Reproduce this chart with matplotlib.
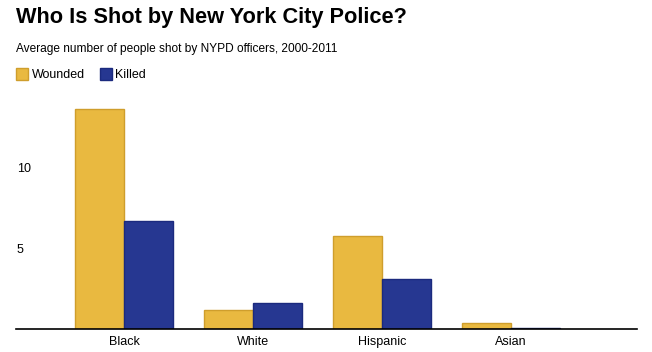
import numpy as np
import matplotlib.pyplot as plt

plt.rcParams['font.family'] = ['Liberation Sans', 'DejaVu Sans']

categories = ['Black', 'White', 'Hispanic', 'Asian']
wounded = [13.6, 1.15, 5.75, 0.38]
killed = [6.65, 1.6, 3.08, 0.08]
yticks = [5, 10]

wounded_color = '#E9B940'
wounded_edge = '#CF9E2C'
killed_color = '#263791'
killed_edge = '#1B2A7E'


def main():
    fig = plt.figure(figsize=(6.52, 3.52), dpi=100)
    ax = fig.add_axes([16 / 652, 23 / 352, 621 / 652, 230 / 352])

    x = np.arange(len(categories))
    width = 49 / 129
    ax.bar(x - width / 2, wounded, width, color=wounded_color,
           edgecolor=wounded_edge, linewidth=1, label='Wounded')
    ax.bar(x + width / 2, killed, width, color=killed_color,
           edgecolor=killed_edge, linewidth=1, label='Killed')

    ax.set_xlim(-0.837, 3.977)
    ax.set_ylim(0, 14.2)

    for side in ['top', 'right', 'left']:
        ax.spines[side].set_visible(False)
    ax.spines['bottom'].set_color('black')
    ax.spines['bottom'].set_linewidth(1.2)

    ax.set_xticks(x)
    ax.set_xticklabels(categories, fontsize=9)
    ax.tick_params(axis='x', length=0, pad=5)

    ax.set_yticks(yticks)
    ax.set_yticklabels([str(t) for t in yticks], fontsize=9)
    ax.tick_params(axis='y', length=0, pad=-0.5)
    for lab in ax.get_yticklabels():
        lab.set_horizontalalignment('left')

    # title block
    fig.text(16 / 652, 1 - 18 / 352, 'Who Is Shot by New York City Police?',
             fontsize=15.7, fontweight='bold', va='center', ha='left')
    fig.text(16 / 652, 1 - 49 / 352,
             'Average number of people shot by NYPD officers, 2000-2011',
             fontsize=8.6, va='center', ha='left')

    # legend
    fig.legend(loc='upper left', bbox_to_anchor=(16 / 652, 1 - 68 / 352),
               ncol=2, frameon=False, fontsize=9, handlelength=0.95,
               handleheight=1.1, handletextpad=0.3, columnspacing=1.2,
               borderaxespad=0, borderpad=0)

    fig.savefig('out.png', dpi=100)


if __name__ == '__main__':
    main()
